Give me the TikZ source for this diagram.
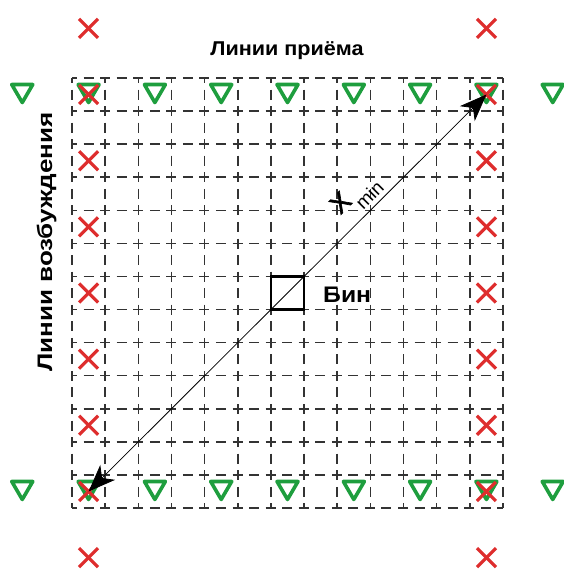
\documentclass[tikz,border=0pt]{standalone}
\usepackage{fontspec}
\setmainfont{Liberation Sans}
\newfontfamily\heavyfont[FakeBold=2.5]{Liberation Sans}
\usetikzlibrary{arrows.meta}
\definecolor{xred}{RGB}{222,45,45}
\definecolor{tgreen}{RGB}{30,158,62}
\begin{document}
\begin{tikzpicture}[x=1pt,y=-1pt,
  gridline/.style={line width=1.5pt, black!80, dash pattern=on 10pt off 6.55pt, dash phase=5pt},
  xmark/.style={xred, line width=3.2pt},
  tri/.style={tgreen, line width=3.6pt, line join=round},
  lbl/.style={inner sep=0pt},
  binbox/.style={draw, line width=2.8pt, minimum width=33pt, minimum height=33pt, inner sep=0pt},
  arr/.style={{Stealth[length=27pt,width=21pt,inset=8pt]}-{Stealth[length=27pt,width=21pt,inset=8pt]}, line width=0.8pt}
]
\useasboundingbox (0,0) rectangle (563,569);
\def\cw{33.154}
\def\ch{33.077}
% grid
\foreach \k in {0,...,13} {
  \draw[gridline] ({72+\k*\cw},78) -- ({72+\k*\cw},508);
  \draw[gridline] (72,{78+\k*\ch}) -- (503,{78+\k*\ch});
}
% receivers (green triangles)
\foreach \c in {-2,0,...,14} {
  \foreach \r in {0,12} {
    \coordinate (t-\c-\r) at ({72+(\c+0.5)*\cw},{78+(\r+0.5)*\ch});
    \draw[tri] (t-\c-\r) ++(-10.5,-10) -- ++(21,0) -- ++(-10.5,18) -- cycle;
  }
}
% sources (red crosses)
\foreach \r in {-2,0,...,14} {
  \foreach \c in {0,12} {
    \coordinate (x-\c-\r) at ({72+(\c+0.5)*\cw},{78+(\r+0.5)*\ch});
    \draw[xmark] (x-\c-\r) ++(-9.5,-9.5) -- ++(19,19);
    \draw[xmark] (x-\c-\r) ++(-9.5,9.5) -- ++(19,-19);
  }
}
% bin
\node[binbox] (bin) at ({72+6.5*\cw},{78+6.5*\ch}) {};
\node[lbl, anchor=base west] (binlabel) at (323,302)
  {\scalebox{1.1}[1]{\bfseries\fontsize{22.5}{22.5}\selectfont Бин}};
% arrow
\draw[arr] (x-0-12) -- (x-12-0);
\node[rotate=45, anchor=base west, inner sep=0pt] (xmin) at (340.4,215.2)
  {{\heavyfont\fontsize{26}{26}\selectfont X}\kern2pt\raisebox{-13pt}{\fontsize{19}{19}\selectfont min}};
% titles
\node[lbl, anchor=base] (title) at (287,56)
  {\scalebox{1.08}[1]{\bfseries\fontsize{20}{20}\selectfont Линии приёма}};
\node[lbl, rotate=90, anchor=base] (vlabel) at (52,242)
  {\scalebox{1.24}[1]{\bfseries\fontsize{21}{21}\selectfont Линии возбуждения}};
\end{tikzpicture}
\end{document}
